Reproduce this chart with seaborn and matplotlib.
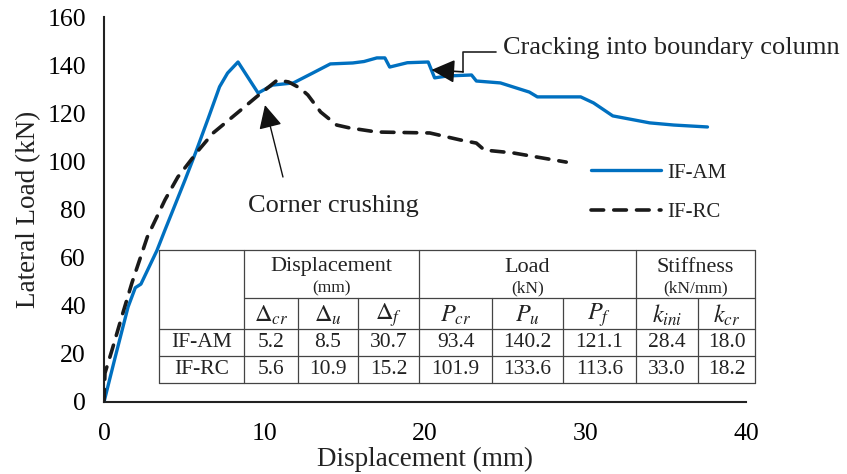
import numpy as np
import pandas as pd
import matplotlib
matplotlib.use("Agg")
import matplotlib.pyplot as plt
from matplotlib.lines import Line2D
from matplotlib.patches import Rectangle
import seaborn as sns

# ---------------- data ----------------
am_x = [0, 0.7, 1.5, 1.95, 2.3, 3.3, 3.8, 4.3, 5.05, 5.7, 6.5, 7.2, 7.7, 8.35, 9.6,
        10.5, 11.8, 13.0, 14.1, 15.5, 16.2, 17.0, 17.5, 17.8, 18.9, 20.2, 20.6, 21.4,
        22.9, 23.2, 24.7, 26.5, 27.0, 29.7, 30.5, 31.7, 34.0, 35.5, 37.6]
am_y = [0, 18.7, 39.5, 47.5, 49, 63, 71.5, 79.8, 92.3, 103.5, 118, 131, 136.7, 141.3, 128.4,
        131.7, 132.6, 136.7, 140.5, 140.9, 141.5, 143, 143, 139.2, 141, 141.3, 134.7, 135.5,
        135.9, 133.4, 132.6, 128.8, 126.8, 126.8, 124.3, 118.9, 116, 115.1, 114.3]

rc_x = [0, 0.06, 0.5, 1.1, 1.74, 2.7, 3.8, 4.6, 5.9, 6.8, 8.3, 9.5, 10.8, 11.5, 12.2,
        12.7, 13.5, 14.5, 15.3, 17.0, 20.3, 22.2, 23.2, 23.7, 25.5, 28.8]
rc_y = [0, 12, 21.6, 35.3, 49.5, 68.6, 84, 93.5, 104.7, 111.8, 120.1, 126.8, 133.8, 133, 130.5,
        127.6, 120.5, 115.1, 113.9, 112.2, 111.8, 108.9, 107.6, 104.7, 103.5, 99.7]

series_names = ["IF-AM", "IF-RC"]
x_ticks = [0, 10, 20, 30, 40]
y_ticks = [0, 20, 40, 60, 80, 100, 120, 140, 160]

group_headers = ["Displacement", "Load", "Stiffness"]
group_units = ["(mm)", "(kN)", "(kN/mm)"]
sub_headers = [r"$\Delta_{cr}$", r"$\Delta_{u}$", r"$\Delta_{f}$",
               r"$P_{cr}$", r"$P_{u}$", r"$P_{f}$", r"$k_{ini}$", r"$k_{cr}$"]
table_am = ["5.2", "8.5", "30.7", "93.4", "140.2", "121.1", "28.4", "18.0"]
table_rc = ["5.6", "10.9", "15.2", "101.9", "133.6", "113.6", "33.0", "18.2"]

# ---------------- style ----------------
sns.set_theme(style="white")
plt.rcParams["font.family"] = ["Liberation Serif", "DejaVu Serif"]
plt.rcParams["mathtext.fontset"] = "stix"

W, H = 847, 474
fig = plt.figure(figsize=(W / 100, H / 100), dpi=100)
ax = fig.add_axes([104 / W, 1 - 402 / H, (746 - 104) / W, (402 - 17) / H])

df_am = pd.DataFrame({"x": am_x, "y": am_y})
df_rc = pd.DataFrame({"x": rc_x, "y": rc_y})

sns.lineplot(data=df_am, x="x", y="y", ax=ax, sort=False, estimator=None,
             color="#0070C0", lw=2.4, label=series_names[0], zorder=3)
sns.lineplot(data=df_rc, x="x", y="y", ax=ax, sort=False, estimator=None,
             color="#1a1a1a", lw=2.6, label=series_names[1], zorder=3,
             dashes=False)
ax.lines[1].set_dashes([3.5, 2.8])
ax.lines[1].set_dash_capstyle("round")

ax.set_xlim(0, 40)
ax.set_ylim(0, 160)
ax.set_xticks(x_ticks)
ax.set_yticks(y_ticks)
ax.tick_params(direction="in", length=5, width=1.3, labelsize=18.5, colors="black")
ax.tick_params(axis="x", pad=15)
ax.tick_params(axis="y", pad=13)
for s in ["top", "right"]:
    ax.spines[s].set_visible(False)
for s in ["left", "bottom"]:
    ax.spines[s].set_color("#222222")
    ax.spines[s].set_linewidth(1.5)
ax.set_xlabel("Displacement (mm)", fontsize=19.5, labelpad=1.5, color="#222222")
ax.set_ylabel("Lateral Load (kN)", fontsize=19.5, labelpad=4.5, color="#222222")

leg = ax.legend(loc="upper left", bbox_to_anchor=(591 / W, 1 - 163 / H),
                bbox_transform=fig.transFigure, frameon=False, fontsize=15,
                handlelength=3.35, handletextpad=0.3, labelspacing=0.95,
                borderpad=0, borderaxespad=0)
for t in leg.get_texts():
    t.set_color("#222222")

# ---------------- annotations ----------------
ax.text(24.86, 147.2, "Cracking into boundary column", fontsize=19,
        ha="left", va="center", color="#222222")
ax.plot([24.4, 22.37, 22.37], [145.5, 145.5, 137.2], color="#222222", lw=1.2)
ax.annotate("", xy=(20.4, 138.0), xytext=(22.37, 137.2),
            arrowprops=dict(arrowstyle="-|>,head_length=0.9,head_width=0.45",
                            color="#111111", lw=1.2, shrinkA=0, shrinkB=0,
                            mutation_scale=16))

ax.text(14.27, 81.5, "Corner crushing", fontsize=19, ha="center", va="center",
        color="#222222")
ax.annotate("", xy=(10.03, 123.4), xytext=(11.15, 93.5),
            arrowprops=dict(arrowstyle="-|>,head_length=0.9,head_width=0.45",
                            color="#111111", lw=1.0, shrinkA=0, shrinkB=0,
                            mutation_scale=16))

# ---------------- table ----------------
def fx(x):
    return x / W

def fy(y):
    return 1 - y / H

cols = [159, 244, 298, 358, 419, 492, 563, 636, 698, 755]
rows = [250, 298, 329, 356, 383]
lc = "#444444"
lw_t = 0.9

fig.add_artist(Rectangle((fx(cols[0]), fy(rows[-1])), fx(cols[-1]) - fx(cols[0]),
                         fy(rows[0]) - fy(rows[-1]), transform=fig.transFigure,
                         facecolor="white", edgecolor="none", zorder=5))

def hline(y, x0, x1):
    fig.add_artist(Line2D([fx(x0), fx(x1)], [fy(y), fy(y)], color=lc, lw=lw_t, zorder=6))

def vline(x, y0, y1):
    fig.add_artist(Line2D([fx(x), fx(x)], [fy(y0), fy(y1)], color=lc, lw=lw_t, zorder=6))

hline(rows[0], cols[0], cols[-1])
hline(rows[1], cols[1], cols[-1])
hline(rows[2], cols[0], cols[-1])
hline(rows[3], cols[0], cols[-1])
hline(rows[4], cols[0], cols[-1])
for i, c in enumerate(cols):
    if i in (0, 1, 4, 7, 9):
        vline(c, rows[0], rows[-1])
    else:
        vline(c, rows[1], rows[-1])

tc = "#222222"
group_spans = [(cols[1], cols[4]), (cols[4], cols[7]), (cols[7], cols[9])]
for (a, b), g, u in zip(group_spans, group_headers, group_units):
    fig.text(fx((a + b) / 2), fy(267), g, fontsize=16, ha="center", va="center", color=tc, zorder=7)
    fig.text(fx((a + b) / 2), fy(288), u, fontsize=12.5, ha="center", va="center", color=tc, zorder=7)

for i, s in enumerate(sub_headers):
    cx = (cols[i + 1] + cols[i + 2]) / 2
    fig.text(fx(cx), fy(315), s, fontsize=17.5, ha="center", va="center", color=tc, zorder=7)

for r, (name, vals) in enumerate([(series_names[0], table_am), (series_names[1], table_rc)]):
    cy = (rows[2 + r] + rows[3 + r]) / 2
    fig.text(fx((cols[0] + cols[1]) / 2), fy(cy), name, fontsize=15.5, ha="center", va="center",
             color=tc, zorder=7)
    for i, v in enumerate(vals):
        cx = (cols[i + 1] + cols[i + 2]) / 2
        fig.text(fx(cx), fy(cy), v, fontsize=15.5, ha="center", va="center", color=tc, zorder=7)

fig.savefig("out.png", dpi=100)
